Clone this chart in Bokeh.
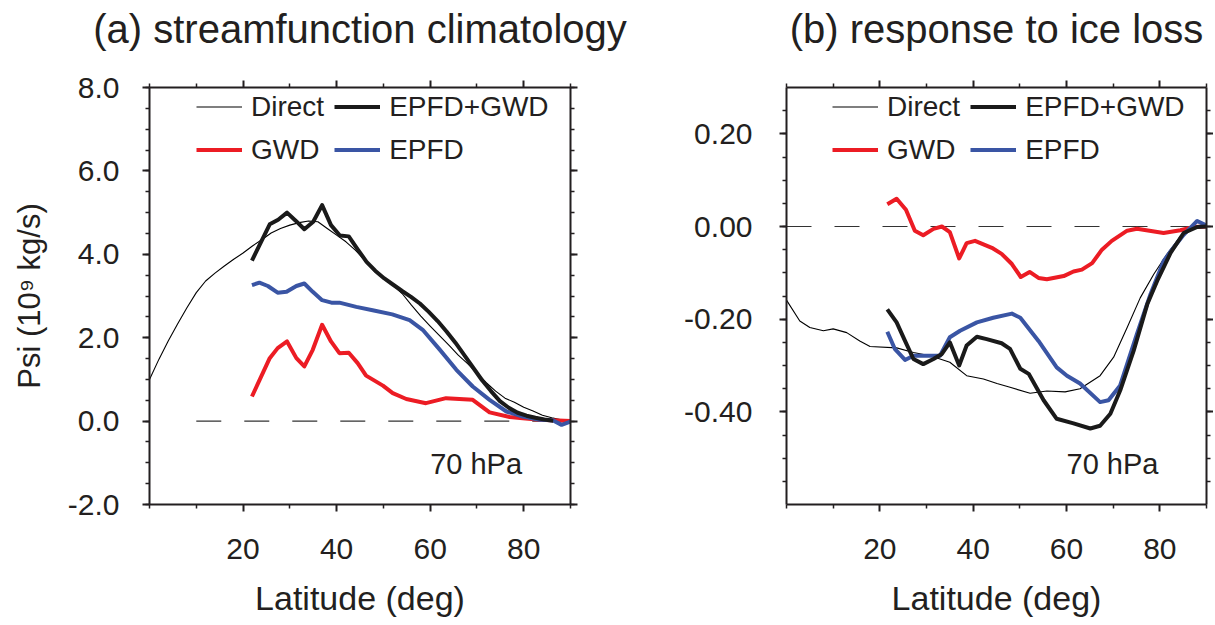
from bokeh.plotting import figure
from bokeh.models import (LinearAxis, FixedTicker, SingleIntervalTicker, PrintfTickFormatter,
                          CustomJSTickFormatter, Legend, LegendItem, Label, Range1d)
from bokeh.layouts import row
from bokeh.embed import file_html
from bokeh.resources import INLINE

# ---------------- data: panel (a) climatology ----------------
lat_direct_a = [0, 2, 4, 6, 8, 10, 12, 14, 16, 18, 20, 22, 24, 26, 28, 30, 32, 34, 36, 38,
                40, 42, 44, 46, 48, 50, 52, 54, 56, 58, 60, 62, 64, 66, 68, 70, 72, 74, 76,
                78, 80, 82, 84, 86, 88, 90]
direct_a = [1.00, 1.48, 1.92, 2.33, 2.72, 3.08, 3.36, 3.55, 3.72, 3.88, 4.03, 4.20, 4.35,
            4.51, 4.62, 4.70, 4.76, 4.80, 4.78, 4.62, 4.46, 4.30, 4.10, 3.86, 3.60, 3.44,
            3.27, 3.06, 2.78, 2.52, 2.28, 2.05, 1.82, 1.58, 1.38, 1.15, 0.92, 0.72, 0.55,
            0.45, 0.33, 0.24, 0.14, 0.08, 0.03, 0.00]

lat_total_a = [21.9, 25.7, 27.5, 29.4, 31.3, 33.1, 35.0, 36.9, 38.8, 40.7, 42.6, 44.5, 46.4,
               48.3, 50.2, 52.1, 54.0, 55.9, 57.8, 59.7, 61.6, 63.5, 65.4, 67.3, 69.2, 71.1,
               73.0, 74.9, 76.8, 78.7, 80.6, 82.5, 84.4, 86.3]
total_a = [3.85, 4.72, 4.83, 5.00, 4.80, 4.60, 4.78, 5.18, 4.70, 4.45, 4.43, 4.12, 3.82,
           3.60, 3.42, 3.27, 3.12, 2.98, 2.82, 2.62, 2.40, 2.15, 1.88, 1.58, 1.28, 0.98,
           0.72, 0.48, 0.32, 0.20, 0.13, 0.08, 0.04, 0.01]

lat_epfd_a = [21.9, 23.5, 25.3, 27.4, 29.3, 31.4, 33.1, 34.9, 36.9, 38.9, 40.6, 44.2, 47.7,
              51.9, 55.6, 58.4, 62.0, 65.6, 69.1, 72.7, 76.3, 79.8, 83.4, 86.2, 88.1, 90]
epfd_a = [3.26, 3.32, 3.24, 3.08, 3.10, 3.24, 3.30, 3.10, 2.90, 2.84, 2.84, 2.74, 2.66,
          2.56, 2.42, 2.19, 1.72, 1.23, 0.83, 0.51, 0.23, 0.11, 0.03, 0.02, -0.09, -0.01]

lat_gwd_a = [21.9, 25.7, 27.4, 29.4, 31.4, 33.1, 34.9, 36.9, 38.8, 40.6, 42.6, 44.5, 46.3,
             49.9, 52.0, 54.9, 59.1, 63.4, 69.1, 72.7, 77.0, 79.8, 83.4, 90]
gwd_a = [0.59, 1.51, 1.75, 1.91, 1.51, 1.31, 1.71, 2.31, 1.91, 1.63, 1.64, 1.39, 1.09,
         0.85, 0.67, 0.53, 0.43, 0.55, 0.51, 0.21, 0.10, 0.07, 0.03, 0.00]

# ---------------- data: panel (b) response to ice loss ----------------
lat_direct_b = [0, 2.85, 5.0, 7.9, 10.0, 12.9, 15.7, 17.9, 23.6, 27.2, 30.8, 35.0, 38.6,
                42.2, 45.1, 47.9, 52.2, 55.8, 59.7, 62.9, 67.2, 70.1, 73.0, 75.8, 78.7,
                81.5, 84.4, 87.3, 90]
direct_b = [-0.159, -0.204, -0.218, -0.225, -0.221, -0.229, -0.247, -0.259, -0.262, -0.272,
            -0.279, -0.293, -0.322, -0.329, -0.339, -0.347, -0.360, -0.355, -0.357, -0.350,
            -0.322, -0.282, -0.218, -0.154, -0.103, -0.060, -0.022, -0.003, 0.000]

lat_total_b = [21.6, 23.6, 25.4, 27.2, 29.3, 31.5, 33.3, 35.0, 37.0, 38.6, 40.8, 42.9, 46.1,
               47.9, 50.1, 51.9, 55.1, 57.9, 61.5, 65.1, 67.2, 69.4, 71.5, 74.4, 77.3, 79.4,
               82.3, 85.1, 88.0, 90]
total_b = [-0.179, -0.207, -0.247, -0.286, -0.297, -0.286, -0.275, -0.250, -0.300, -0.257,
           -0.238, -0.243, -0.252, -0.264, -0.307, -0.318, -0.375, -0.415, -0.425, -0.436,
           -0.430, -0.404, -0.354, -0.268, -0.168, -0.118, -0.057, -0.014, -0.001, 0.000]

lat_epfd_b = [21.6, 23.2, 25.4, 27.2, 30.0, 32.9, 35.0, 37.2, 40.8, 44.3, 48.3, 50.1, 54.0,
              57.9, 60.1, 62.9, 67.2, 69.0, 71.5, 75.1, 78.0, 80.8, 82.3, 85.1, 88.0, 90]
epfd_b = [-0.227, -0.264, -0.288, -0.279, -0.279, -0.279, -0.239, -0.225, -0.207, -0.197,
          -0.188, -0.197, -0.247, -0.304, -0.322, -0.339, -0.379, -0.375, -0.343, -0.232,
          -0.146, -0.075, -0.054, -0.018, 0.012, 0.002]

lat_gwd_b = [21.6, 23.6, 25.6, 27.5, 29.3, 31.5, 33.3, 35.0, 37.0, 38.6, 40.4, 44.0, 46.1,
             48.3, 50.2, 52.1, 54.0, 55.8, 59.4, 61.5, 63.3, 65.5, 67.6, 69.7, 73.0, 75.1,
             80.8, 84.4, 87.3, 90]
gwd_b = [0.048, 0.060, 0.036, -0.009, -0.019, -0.005, 0.000, -0.012, -0.069, -0.036, -0.031,
         -0.046, -0.059, -0.081, -0.109, -0.098, -0.111, -0.114, -0.107, -0.097, -0.093,
         -0.079, -0.050, -0.031, -0.009, -0.005, -0.014, -0.008, -0.001, 0.000]

# zero reference lines (lat extent)
zero_lat_a = [10, 90]
zero_lat_b = [0, 90]

x_major = [20, 40, 60, 80]
x_minor = [0, 10, 30, 50, 70, 90]

FONT = "Liberation Sans"
INK = "#231f20"
RED = "#ec1c24"
BLUE = "#3a55a4"


def style_axis(ax, show_labels=True):
    ax.axis_line_width = 2
    ax.axis_line_color = INK
    ax.major_tick_line_width = 2
    ax.major_tick_line_color = INK
    ax.minor_tick_line_width = 1.5
    ax.minor_tick_line_color = INK
    ax.major_tick_out = 7
    ax.major_tick_in = 0
    ax.minor_tick_out = 4
    ax.minor_tick_in = 0
    ax.major_label_text_font = FONT
    ax.major_label_text_font_size = "30px"
    ax.major_label_text_color = INK
    ax.axis_label_text_font = FONT
    ax.axis_label_text_font_size = "34px"
    ax.axis_label_text_font_style = "normal"
    ax.axis_label_text_color = INK
    if not show_labels:
        ax.formatter = CustomJSTickFormatter(code="return ''")
        ax.major_label_standoff = 0


def make_panel(title, yr, yinterval, yfmt, width, bl, br, ylabel, ann_y, ystandoff):
    p = figure(width=width, height=620, x_range=Range1d(0, 90), y_range=yr,
               output_backend="svg", toolbar_location=None,
               x_axis_location=None, y_axis_location=None,
               min_border_left=bl, min_border_right=br, min_border_top=86,
               min_border_bottom=116)
    p.xgrid.visible = False
    p.ygrid.visible = False
    p.outline_line_color = None
    p.background_fill_color = "white"
    p.border_fill_color = "white"

    p.title.text = title
    p.title.align = "center"
    p.title.text_font = FONT
    p.title.text_font_size = "40px"
    p.title.text_font_style = "normal"
    p.title.text_color = INK
    p.title.standoff = 8
    try:
        p.title.padding = dict(top=0, right=0, bottom=26, left=0)
    except Exception:
        p.title.standoff = 8

    xt = FixedTicker(ticks=x_major, minor_ticks=x_minor)
    bottom = LinearAxis(ticker=xt, axis_label="Latitude (deg)",
                        major_label_standoff=27, axis_label_standoff=17)
    top = LinearAxis(ticker=FixedTicker(ticks=x_major, minor_ticks=x_minor))
    yt = SingleIntervalTicker(interval=yinterval, num_minor_ticks=4)
    left = LinearAxis(ticker=yt, formatter=PrintfTickFormatter(format=yfmt),
                      major_label_standoff=ystandoff, axis_label_standoff=18)
    if ylabel:
        left.axis_label = ylabel
    right = LinearAxis(ticker=SingleIntervalTicker(interval=yinterval, num_minor_ticks=4))
    style_axis(bottom)
    style_axis(left)
    left.axis_label_text_font_size = "31px"
    style_axis(top, False)
    style_axis(right, False)
    p.add_layout(bottom, "below")
    p.add_layout(left, "left")
    p.add_layout(top, "above")
    p.add_layout(right, "right")

    p.add_layout(Label(x=60, y=ann_y, text="70 hPa", text_font=FONT,
                       text_font_size="29px", text_color=INK,
                       text_baseline="middle"))
    return p


def add_series(p, zx, d, t, e, g, legend_loc):
    p.line(zx, [0, 0], line_color="#333333", line_width=1.2, line_dash="25 23")
    r_direct = p.line(d[0], d[1], line_color="black", line_width=1.1, line_join="round")
    r_gwd = p.line(g[0], g[1], line_color=RED, line_width=4, line_join="round")
    r_epfd = p.line(e[0], e[1], line_color=BLUE, line_width=4, line_join="round")
    r_tot = p.line(t[0], t[1], line_color="#1a1a1a", line_width=4, line_join="round")
    leg = Legend(items=[LegendItem(label="Direct", renderers=[r_direct]),
                        LegendItem(label="EPFD+GWD", renderers=[r_tot]),
                        LegendItem(label="GWD", renderers=[r_gwd]),
                        LegendItem(label="EPFD", renderers=[r_epfd])],
                 orientation="horizontal", ncols=2, location=legend_loc,
                 background_fill_alpha=0, border_line_color=None,
                 padding=0, spacing=10, margin=0,
                 glyph_width=46, glyph_height=33, label_standoff=9,
                 label_text_font=FONT, label_text_font_size="28px",
                 label_text_color=INK, label_height=33)
    p.add_layout(leg)


pa = make_panel("(a) streamfunction climatology", Range1d(-2, 8), 2, "%.1f", 635, 149, 65,
                "Psi (10\u2079 kg/s)", -1.02, 23)
add_series(pa, zero_lat_a, (lat_direct_a, direct_a), (lat_total_a, total_a),
           (lat_epfd_a, epfd_a), (lat_gwd_a, gwd_a), (47, 338))

pb = make_panel("(b) response to ice loss", Range1d(-0.6, 0.3), 0.2, "%.2f", 578, 151, 0,
                None, -0.512, 27)
add_series(pb, zero_lat_b, (lat_direct_b, direct_b), (lat_total_b, total_b),
           (lat_epfd_b, epfd_b), (lat_gwd_b, gwd_b), (46, 338))

layout = row(pa, pb)
open("out.html", "w").write(file_html(layout, INLINE))
